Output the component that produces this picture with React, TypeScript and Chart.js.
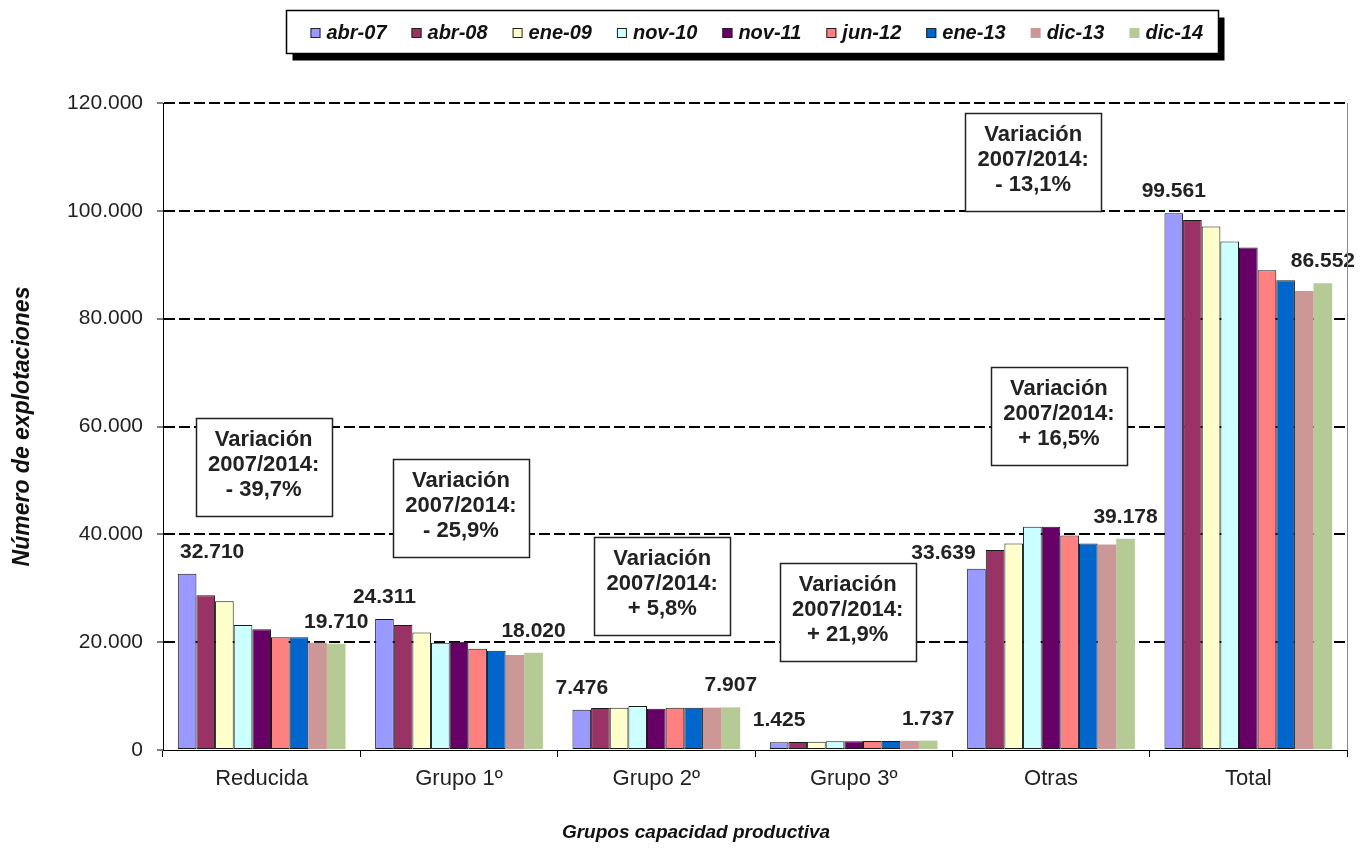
import { useEffect, useRef } from 'react';
import { Chart, registerables } from 'chart.js';

Chart.register(...registerables);

const FONT = '"Liberation Sans", Arial, Helvetica, sans-serif';

const categories = ['Reducida', 'Grupo 1º', 'Grupo 2º', 'Grupo 3º', 'Otras', 'Total'];
const seriesNames = ['abr-07', 'abr-08', 'ene-09', 'nov-10', 'nov-11', 'jun-12', 'ene-13', 'dic-13', 'dic-14'];

const abr07 = [32710, 24311, 7476, 1425, 33639, 99561];
const abr08 = [28700, 23200, 7800, 1500, 37100, 98300];
const ene09 = [27600, 21800, 7850, 1550, 38300, 97100];
const nov10 = [23200, 19900, 8160, 1600, 41400, 94300];
const nov11 = [22400, 20100, 7670, 1620, 41400, 93200];
const jun12 = [20900, 18800, 7850, 1650, 39800, 89000];
const ene13 = [20900, 18400, 7850, 1680, 38300, 87130];
const dic13 = [19900, 17600, 7850, 1700, 38100, 85150];
const dic14 = [19710, 18020, 7907, 1737, 39178, 86552];

const seriesValues = [abr07, abr08, ene09, nov10, nov11, jun12, ene13, dic13, dic14];
const seriesColors = ['#9999FF', '#993366', '#FFFFCC', '#CCFFFF', '#660066', '#FF8080', '#0066CC', '#CC9797', '#B5CA94'];
const seriesBorders = [1, 1, 1, 1, 1, 1, 1, 0, 0];

const yTicks = [0, 20000, 40000, 60000, 80000, 100000, 120000];

// Annotation boxes ("Variación 2007/2014")
const noteTexts = ['- 39,7%', '- 25,9%', '+ 5,8%', '+ 21,9%', '+ 16,5%', '- 13,1%'];
const noteCats = [0, 1, 2, 3, 4, 4];
const noteShift = [0.01, 0.01, 0.03, -0.03, 0.04, -0.09];
const noteTopValues = [61600, 54000, 39500, 34700, 71000, 118100];

// value labels: [seriesIndex, categoryIndex]
const labelTargets = [
  [0, 0], [8, 0], [0, 1], [8, 1], [0, 2], [8, 2], [0, 3], [8, 3], [0, 4], [8, 4], [0, 5], [8, 5],
];
const labelNudgeX: Record<string, number> = { '0-0': 25, '0-4': -33 };
const labelNudgeY: Record<string, number> = { '0-4': 6 };

function fmt(n: number): string {
  return String(Math.round(n)).replace(/\B(?=(\d{3})+(?!\d))/g, '.');
}

const decor = {
  id: 'decor',
  beforeDraw(chart: any) {
    const { ctx, width, height } = chart;
    ctx.save();
    ctx.fillStyle = '#ffffff';
    ctx.fillRect(0, 0, width, height);
    ctx.restore();
  },
  afterDatasetsDraw(chart: any) {
    const { ctx } = chart;
    ctx.save();
    ctx.font = `bold 21px ${FONT}`;
    ctx.fillStyle = '#222222';
    ctx.textAlign = 'center';
    ctx.textBaseline = 'alphabetic';
    labelTargets.forEach(([s, c]) => {
      const el = chart.getDatasetMeta(s).data[c];
      const key = `${s}-${c}`;
      const dx = labelNudgeX[key] || 0;
      const dy = labelNudgeY[key] || 0;
      ctx.fillText(fmt(seriesValues[s][c]), el.x + dx, el.y - 16 + dy);
    });
    ctx.restore();
  },
  afterDraw(chart: any) {
    const { ctx, chartArea, scales } = chart;
    const xs = scales.x;
    const ys = scales.y;
    ctx.save();

    // right plot border
    ctx.strokeStyle = '#8a8a8a';
    ctx.lineWidth = 1;
    ctx.beginPath();
    ctx.moveTo(chartArea.right + 0.5, chartArea.top);
    ctx.lineTo(chartArea.right + 0.5, chartArea.bottom);
    ctx.stroke();

    // annotation boxes
    const catW = (chartArea.right - chartArea.left) / categories.length;
    const bw = 136;
    const bh = 98;
    noteTexts.forEach((t, i) => {
      const cx = xs.getPixelForValue(noteCats[i]) + noteShift[i] * catW;
      const top = ys.getPixelForValue(noteTopValues[i]);
      const left = Math.round(cx - bw / 2) + 0.5;
      ctx.fillStyle = '#ffffff';
      ctx.fillRect(left, Math.round(top) + 0.5, bw, bh);
      ctx.strokeStyle = '#222222';
      ctx.lineWidth = 1.5;
      ctx.strokeRect(left, Math.round(top) + 0.5, bw, bh);
      ctx.fillStyle = '#222222';
      ctx.font = `bold 22px ${FONT}`;
      ctx.textAlign = 'center';
      ctx.textBaseline = 'alphabetic';
      const lines = ['Variación', '2007/2014:', t];
      lines.forEach((ln, k) => {
        ctx.fillText(ln, cx, top + 28 + k * 25);
      });
    });

    // legend box with shadow
    const lw = 932;
    const lh = 43;
    const lcx = (chartArea.left + chartArea.right) / 2;
    const lx = Math.round(lcx - lw / 2) - 2.5;
    const ly = 10.5;
    ctx.fillStyle = '#000000';
    ctx.fillRect(lx + 6, ly + 7, lw, lh);
    ctx.fillStyle = '#ffffff';
    ctx.fillRect(lx, ly, lw, lh);
    ctx.strokeStyle = '#000000';
    ctx.lineWidth = 1.5;
    ctx.strokeRect(lx, ly, lw, lh);
    ctx.font = `italic bold 20px ${FONT}`;
    ctx.textAlign = 'left';
    ctx.textBaseline = 'middle';
    let px = lx + 24;
    const cy = ly + lh / 2;
    seriesNames.forEach((name, i) => {
      ctx.fillStyle = seriesColors[i];
      ctx.fillRect(px, cy - 4, 10, 10);
      if (seriesBorders[i]) {
        ctx.strokeStyle = '#222222';
        ctx.lineWidth = 1;
        ctx.strokeRect(px + 0.5, cy - 3.5, 9, 9);
      }
      ctx.fillStyle = '#111111';
      ctx.fillText(name, px + 16, cy + 1);
      px += 16 + ctx.measureText(name).width + 25;
    });

    // axis titles
    ctx.fillStyle = '#111111';
    ctx.font = `italic bold 23px ${FONT}`;
    ctx.textAlign = 'center';
    ctx.textBaseline = 'middle';
    ctx.save();
    ctx.translate(23, (chartArea.top + chartArea.bottom) / 2);
    ctx.rotate(-Math.PI / 2);
    ctx.fillText('Número de explotaciones', 0, 0);
    ctx.restore();
    ctx.font = `italic bold 19px ${FONT}`;
    ctx.fillText('Grupos capacidad productiva', 696, 833);

    ctx.restore();
  },
};

export default function App() {
  const ref = useRef<HTMLCanvasElement | null>(null);

  useEffect(() => {
    if (!ref.current) return;
    const chart = new Chart(ref.current, {
      type: 'bar',
      data: {
        labels: categories,
        datasets: seriesNames.map((name, i) => ({
          label: name,
          data: seriesValues[i],
          backgroundColor: seriesColors[i],
          borderColor: '#1a1a1a',
          borderWidth: seriesBorders[i],
          borderSkipped: false,
          categoryPercentage: 0.85,
          barPercentage: 1.0,
        })),
      },
      options: {
        responsive: false,
        animation: false,
        layout: { padding: { left: 0, right: 14, top: 103, bottom: 0 } },
        plugins: {
          legend: { display: false },
          tooltip: { enabled: false },
          title: { display: false },
        },
        scales: {
          x: {
            offset: true,
            grid: {
              offset: true,
              drawOnChartArea: false,
              drawTicks: true,
              tickLength: 7,
              tickColor: '#000000',
              color: '#000000',
              lineWidth: 1,
            },
            border: { display: true, color: '#000000', width: 1 },
            ticks: {
              color: '#222222',
              font: { family: FONT, size: 22 },
              padding: 9,
            },
            afterFit: (s: any) => {
              s.height = 102;
            },
          },
          y: {
            min: 0,
            max: 120000,
            afterBuildTicks: (s: any) => {
              s.ticks = yTicks.map((v) => ({ value: v }));
            },
            grid: {
              color: (c: any) => (c.tick && c.tick.value === 0 ? 'rgba(0,0,0,0)' : '#000000'),
              lineWidth: 2,
              drawTicks: true,
              tickLength: 6,
              tickColor: '#000000',
              tickWidth: 1,
              tickBorderDash: [],
            },
            border: { display: true, color: '#000000', width: 1, dash: [11, 4] },
            ticks: {
              color: '#222222',
              font: { family: FONT, size: 21 },
              padding: 14,
              callback: (v: any) => fmt(Number(v)),
            },
            afterFit: (s: any) => {
              s.width = 163;
            },
          },
        },
      },
      plugins: [decor],
    });
    return () => chart.destroy();
  }, []);

  return (
    <div style={{ position: 'fixed', left: 0, top: 0, width: 1361, height: 852, background: '#ffffff' }}>
      <canvas ref={ref} width={1361} height={852} style={{ width: 1361, height: 852, display: 'block' }} />
    </div>
  );
}
